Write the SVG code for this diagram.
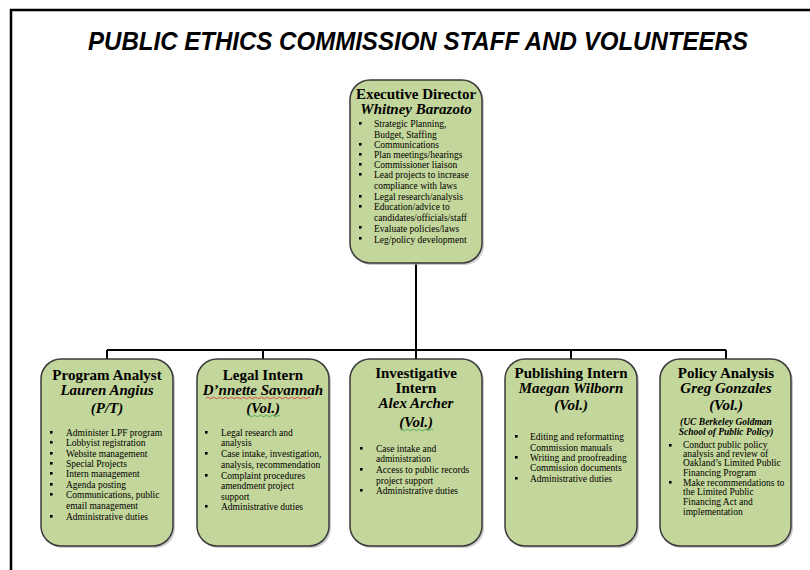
<svg xmlns="http://www.w3.org/2000/svg" width="810" height="570" viewBox="0 0 810 570">
<style>
.box{fill:#c3d69b;stroke:#3a3a3a;stroke-width:1.5}
.shadow{fill:#a8a8a8;opacity:0.6}
.hd{font-family:"Liberation Serif","Times New Roman",serif;font-weight:bold;font-size:15px;fill:#000;text-anchor:middle}
.nm{font-family:"Liberation Serif","Times New Roman",serif;font-weight:bold;font-style:italic;font-size:15px;fill:#000;text-anchor:middle}
.sm{font-family:"Liberation Serif","Times New Roman",serif;font-weight:bold;font-style:italic;font-size:9.5px;fill:#000;text-anchor:middle}
.bt{font-family:"Liberation Serif","Times New Roman",serif;font-size:9.5px;fill:#000}
.bl{fill:#000}
.conn{stroke:#000;stroke-width:2;fill:none}
.frame{fill:none;stroke:#000;stroke-width:2.5}
.title{font-family:"Liberation Sans",Arial,sans-serif;font-weight:bold;font-style:italic;font-size:26px;fill:#000;text-anchor:middle}
.red{stroke:#d03030;stroke-width:0.8;fill:none}
.grn{stroke:#40a040;stroke-width:0.8;fill:none}
</style>
<defs>
<rect id="sq" width="2.6" height="2.6"/>
</defs>
<rect x="0" y="0" width="810" height="570" fill="#fff"/>
<rect class="frame" x="11" y="10" width="820" height="580"/>
<text class="title" x="418" y="50" textLength="660" lengthAdjust="spacingAndGlyphs">PUBLIC ETHICS COMMISSION STAFF AND VOLUNTEERS</text>

<g id="connectors">
<path class="conn" d="M416 263 V350 M107 350 H726 M107 350 V359 M263 350 V359 M416 350 V359 M571 350 V359 M726 350 V359"/>
</g>

<g id="exec">
<rect class="shadow" x="352" y="82" width="132" height="183" rx="20"/>
<rect class="box" x="350" y="80" width="132" height="183" rx="20"/>
<text class="hd" x="416" y="99">Executive Director</text>
<text class="nm" x="416" y="114">Whitney Barazoto</text>
<g class="bl">
<use href="#sq" x="359" y="122"/><use href="#sq" x="359" y="143"/><use href="#sq" x="359" y="153"/><use href="#sq" x="359" y="163"/><use href="#sq" x="359" y="173"/><use href="#sq" x="359" y="195"/><use href="#sq" x="359" y="205"/><use href="#sq" x="359" y="226"/><use href="#sq" x="359" y="237"/>
</g>
<text class="bt" x="374" y="127">Strategic Planning,</text>
<text class="bt" x="374" y="138">Budget, Staffing</text>
<text class="bt" x="374" y="148">Communications</text>
<text class="bt" x="374" y="158">Plan meetings/hearings</text>
<text class="bt" x="374" y="168">Commissioner liaison</text>
<text class="bt" x="374" y="178">Lead projects to increase</text>
<text class="bt" x="374" y="189">compliance with laws</text>
<text class="bt" x="374" y="200">Legal research/analysis</text>
<text class="bt" x="374" y="210">Education/advice to</text>
<text class="bt" x="374" y="221">candidates/officials/staff</text>
<text class="bt" x="374" y="232">Evaluate policies/laws</text>
<text class="bt" x="374" y="243">Leg/policy development</text>
</g>

<g id="program-analyst">
<rect class="shadow" x="43" y="361" width="132" height="187" rx="20"/>
<rect class="box" x="41" y="359" width="132" height="187" rx="20"/>
<text class="hd" x="107" y="380">Program Analyst</text>
<text class="nm" x="107" y="395">Lauren Angius</text>
<text class="nm" x="107" y="413">(P/T)</text>
<g class="bl">
<use href="#sq" x="50" y="431"/><use href="#sq" x="50" y="441"/><use href="#sq" x="50" y="452"/><use href="#sq" x="50" y="462"/><use href="#sq" x="50" y="472"/><use href="#sq" x="50" y="483"/><use href="#sq" x="50" y="493"/><use href="#sq" x="50" y="515"/>
</g>
<text class="bt" x="66" y="436">Administer LPF program</text>
<text class="bt" x="66" y="446">Lobbyist registration</text>
<text class="bt" x="66" y="457">Website management</text>
<text class="bt" x="66" y="467">Special Projects</text>
<text class="bt" x="66" y="477">Intern management</text>
<text class="bt" x="66" y="488">Agenda posting</text>
<text class="bt" x="66" y="498">Communications, public</text>
<text class="bt" x="66" y="509">email management</text>
<text class="bt" x="66" y="520">Administrative duties</text>
</g>

<g id="legal-intern">
<rect class="shadow" x="199" y="361" width="132" height="187" rx="20"/>
<rect class="box" x="197" y="359" width="132" height="187" rx="20"/>
<text class="hd" x="263" y="380">Legal Intern</text>
<text class="nm" x="263" y="395">D’nnette Savannah</text>
<path class="red" d="M206 398 q1.5 -1.5 3 0 t3 0 t3 0 t3 0 t3 0 t3 0 t3 0 t3 0 t3 0 t3 0 t3 0 t3 0 t3 0 t3 0 t3 0 t3 0 t3 0 t3 0 t3 0 t3 0 t3 0 t3 0 t3 0 t3 0 t3 0 t3 0 t3 0 t3 0 t3 0 t3 0 t3 0 t3 0 t3 0 t3 0 t3 0"/>
<text class="nm" x="263" y="413">(Vol.)</text>
<path class="grn" d="M247 416 q1.5 -1.5 3 0 t3 0 t3 0 t3 0 t3 0 t3 0 t3 0 t3 0 t3 0 t3 0 t3 0"/>
<g class="bl">
<use href="#sq" x="205" y="431"/><use href="#sq" x="205" y="452"/><use href="#sq" x="205" y="474"/><use href="#sq" x="205" y="505"/>
</g>
<text class="bt" x="221" y="436">Legal research and</text>
<text class="bt" x="221" y="446">analysis</text>
<text class="bt" x="221" y="457">Case intake, investigation,</text>
<text class="bt" x="221" y="468">analysis, recommendation</text>
<text class="bt" x="221" y="479">Complaint procedures</text>
<text class="bt" x="221" y="489">amendment project</text>
<text class="bt" x="221" y="500">support</text>
<text class="bt" x="221" y="510">Administrative duties</text>
</g>

<g id="investigative-intern">
<rect class="shadow" x="352" y="361" width="132" height="187" rx="20"/>
<rect class="box" x="350" y="359" width="132" height="187" rx="20"/>
<text class="hd" x="416" y="378">Investigative</text>
<text class="hd" x="416" y="393">Intern</text>
<text class="nm" x="416" y="408">Alex Archer</text>
<text class="nm" x="416" y="427">(Vol.)</text>
<path class="grn" d="M400 430 q1.5 -1.5 3 0 t3 0 t3 0 t3 0 t3 0 t3 0 t3 0 t3 0 t3 0 t3 0 t3 0"/>
<g class="bl">
<use href="#sq" x="360" y="447"/><use href="#sq" x="360" y="468"/><use href="#sq" x="360" y="489"/>
</g>
<text class="bt" x="376" y="452">Case intake and</text>
<text class="bt" x="376" y="462">administration</text>
<text class="bt" x="376" y="473">Access to public records</text>
<text class="bt" x="376" y="484">project support</text>
<text class="bt" x="376" y="494">Administrative duties</text>
</g>

<g id="publishing-intern">
<rect class="shadow" x="507" y="361" width="132" height="187" rx="20"/>
<rect class="box" x="505" y="359" width="132" height="187" rx="20"/>
<text class="hd" x="571" y="378">Publishing Intern</text>
<text class="nm" x="571" y="393">Maegan Wilborn</text>
<text class="nm" x="571" y="410">(Vol.)</text>
<g class="bl">
<use href="#sq" x="515" y="435"/><use href="#sq" x="515" y="456"/><use href="#sq" x="515" y="477"/>
</g>
<text class="bt" x="530" y="440">Editing and reformatting</text>
<text class="bt" x="530" y="451">Commission manuals</text>
<text class="bt" x="530" y="461">Writing and proofreading</text>
<text class="bt" x="530" y="471">Commission documents</text>
<text class="bt" x="530" y="482">Administrative duties</text>
</g>

<g id="policy-analysis">
<rect class="shadow" x="662" y="361" width="131" height="187" rx="20"/>
<rect class="box" x="660" y="359" width="131" height="187" rx="20"/>
<text class="hd" x="726" y="378">Policy Analysis</text>
<text class="nm" x="726" y="393">Greg Gonzales</text>
<text class="nm" x="726" y="410">(Vol.)</text>
<text class="sm" x="726" y="425">(UC Berkeley Goldman</text>
<text class="sm" x="726" y="435">School of Public Policy)</text>
<g class="bl">
<use href="#sq" x="669" y="444"/><use href="#sq" x="669" y="481"/>
</g>
<text class="bt" x="683" y="448">Conduct public policy</text>
<text class="bt" x="683" y="457">analysis and review of</text>
<text class="bt" x="683" y="466">Oakland’s Limited Public</text>
<text class="bt" x="683" y="476">Financing Program</text>
<text class="bt" x="683" y="486">Make recommendations to</text>
<text class="bt" x="683" y="495">the Limited Public</text>
<text class="bt" x="683" y="505">Financing Act and</text>
<text class="bt" x="683" y="515">implementation</text>
</g>
</svg>
